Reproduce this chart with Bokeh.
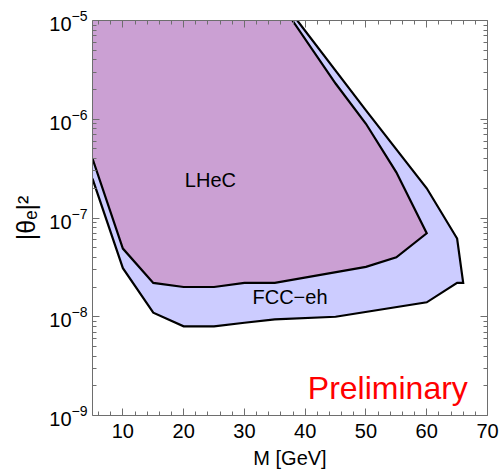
from bokeh.plotting import figure
from bokeh.models import Range1d, FixedTicker, LinearAxis, LogAxis, Label, CustomJSTickFormatter
from bokeh.embed import file_html
from bokeh.resources import INLINE

# ---- data ----
lhec_m = [5, 10, 15, 20, 25, 30, 35, 50, 55, 60, 55, 50, 45, 37.9]
lhec_theta = [4.0e-7, 4.9e-8, 2.2e-8, 2.0e-8, 2.0e-8, 2.2e-8, 2.2e-8, 3.2e-8, 4.0e-8,
              7.0e-8, 2.9e-7, 9.0e-7, 2.3e-6, 1.0e-5]

fcc_m = [5, 10, 15, 20, 25, 30, 35, 45, 60, 65, 66, 65, 60, 50, 38.7]
fcc_theta = [2.5e-7, 3.1e-8, 1.1e-8, 8.0e-9, 8.0e-9, 8.7e-9, 9.4e-9, 1.0e-8, 1.4e-8,
             2.2e-8, 2.2e-8, 6.2e-8, 2.0e-7, 1.23e-6, 1.0e-5]

x_ticks = [10, 20, 30, 40, 50, 60, 70]
y_ticks = [1e-9, 1e-8, 1e-7, 1e-6, 1e-5]

x_min, x_max = 5, 70
y_min, y_max = 1e-9, 1e-5

FONT = "Liberation Sans"
FS = "20px"
FRAME = "#6e6e6e"

p = figure(width=500, height=475, x_range=Range1d(x_min, x_max), y_range=Range1d(y_min, y_max),
           y_axis_type="log", output_backend="svg", toolbar_location=None,
           min_border_left=92, min_border_right=13, min_border_top=20, min_border_bottom=60)
p.outline_line_color = None
p.grid.visible = False
p.background_fill_color = "white"
p.border_fill_color = "white"

# filled regions (closed along the top edge of the frame)
p.patch(fcc_m + [x_min], fcc_theta + [y_max], fill_color="#CCCCFF", line_color=None)
p.patch(lhec_m + [x_min], lhec_theta + [y_max], fill_color="#CBA0D3", line_color=None)
p.line(fcc_m, fcc_theta, line_color="black", line_width=2.2, line_join="miter")
p.line(lhec_m, lhec_theta, line_color="black", line_width=2.2, line_join="miter")

minor_x = [v for v in range(6, 70, 2) if v % 10 != 0]
minor_y = [k * 10.0 ** e for e in range(-9, -5) for k in range(2, 10)]

def style(ax):
    ax.axis_line_color = FRAME
    ax.major_tick_line_color = FRAME
    ax.minor_tick_line_color = FRAME
    ax.major_tick_in = 7
    ax.major_tick_out = 0
    ax.minor_tick_in = 4
    ax.minor_tick_out = 0
    ax.major_label_text_font = FONT
    ax.major_label_text_font_size = FS
    ax.major_label_text_color = "black"
    ax.axis_label_text_font = FONT
    ax.axis_label_text_font_size = FS
    ax.axis_label_text_font_style = "normal"
    ax.axis_label_text_color = "black"

xa = p.xaxis[0]
xa.ticker = FixedTicker(ticks=x_ticks, minor_ticks=minor_x)
style(xa)
xa.axis_label = "M [GeV]"
xa.major_label_standoff = 8
xa.axis_label_standoff = 6

ya = p.yaxis[0]
ya.ticker = FixedTicker(ticks=y_ticks, minor_ticks=minor_y)
style(ya)
ya.axis_label = "|θₑ|²"
ya.axis_label_text_font_size = "25px"
ya.major_label_standoff = 5
ya.axis_label_standoff = 6

blank = CustomJSTickFormatter(code="return '';")

top = LinearAxis(ticker=FixedTicker(ticks=x_ticks, minor_ticks=minor_x), formatter=blank)
style(top)
top.major_label_text_font_size = "6px"
top.major_label_standoff = 0
p.add_layout(top, "above")

right = LogAxis(ticker=FixedTicker(ticks=y_ticks, minor_ticks=minor_y), formatter=blank)
style(right)
right.major_label_text_font_size = "6px"
right.major_label_standoff = 0
p.add_layout(right, "right")

p.add_layout(Label(x=24.4, y=2.45e-7, text="LHeC", text_font=FONT, text_font_size=FS,
                   text_align="center", text_baseline="middle", text_color="black"))
p.add_layout(Label(x=37.5, y=1.57e-8, text="FCC−eh", text_font=FONT, text_font_size=FS,
                   text_align="center", text_baseline="middle", text_color="black"))
p.add_layout(Label(x=53.6, y=1.89e-9, text="Preliminary", text_font=FONT, text_font_size="32px",
                   text_align="center", text_baseline="alphabetic", text_color="#FF0000"))

open("out.html", "w").write(file_html(p, INLINE))
